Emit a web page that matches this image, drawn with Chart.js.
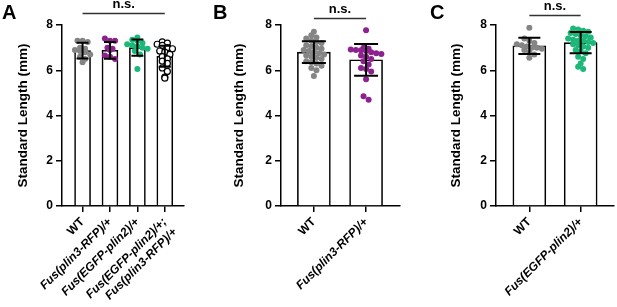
<!DOCTYPE html>
<html><head><meta charset="utf-8">
<script src="https://cdn.jsdelivr.net/npm/chart.js@4"></script>
<style>
html,body{margin:0;padding:0;background:#fff;width:617px;height:307px;overflow:hidden}
canvas{position:absolute;top:0}
</style></head><body>
<canvas id="cA" width="205" height="307" style="left:0px"></canvas>
<canvas id="cB" width="205" height="307" style="left:205px"></canvas>
<canvas id="cC" width="207" height="307" style="left:410px"></canvas>
<script>
// ---------- DATA ----------
const yTicks = [0, 2, 4, 6, 8];
const yTitle = 'Standard Length (mm)';

// Panel A
const catsA = ['WT', 'Fus(plin3-RFP)/+', 'Fus(EGFP-plin2)/+', ['Fus(EGFP-plin2)/+;', 'Fus(plin3-RFP)/+']];
const meansA = [6.87, 6.88, 7.0, 6.62];
const sdA = [0.35, 0.37, 0.36, 0.46];
const a_WT = [7.3, 7.3, 7.25, 7.0, 6.95, 6.9, 6.85, 6.8, 6.7, 6.6, 6.5, 6.35];
const a_plin3 = [7.4, 7.3, 7.3, 7.0, 6.95, 6.9, 6.65, 6.6, 6.5];
const a_egfp = [7.45, 7.35, 7.3, 7.2, 7.15, 7.1, 7.05, 7.0, 6.95, 6.85, 6.7, 6.05];
const a_double = [7.25, 7.2, 7.15, 7.1, 7.0, 6.95, 6.85, 6.8, 6.7, 6.6, 6.5, 6.4, 6.3, 6.1, 5.95, 5.7, 5.65];

// Panel B
const catsB = ['WT', 'Fus(plin3-RFP)/+'];
const meansB = [6.8, 6.46];
const sdB = [0.48, 0.7];
const b_WT = [7.7, 7.55, 7.45, 7.4, 7.3, 7.25, 7.2, 7.1, 7.05, 7.0, 6.95, 6.9, 6.85, 6.8, 6.75, 6.7, 6.65, 6.6, 6.55, 6.5, 6.4, 6.35, 6.3, 6.2, 6.1, 6.0, 5.75];
const b_plin3 = [7.77, 7.0, 6.95, 6.92, 6.9, 6.88, 6.85, 6.8, 6.75, 6.72, 6.65, 6.6, 6.5, 6.4, 6.25, 6.1, 6.05, 5.95, 5.6, 4.85, 4.7];

// Panel C
const catsC = ['WT', 'Fus(EGFP-plin2)/+'];
const meansC = [7.08, 7.22];
const sdC = [0.36, 0.47];
const c_WT = [7.88, 7.4, 7.3, 7.2, 7.15, 7.1, 7.05, 7.0, 7.0, 6.95, 6.9, 6.8, 6.7, 6.55];
const c_egfp = [7.85, 7.8, 7.75, 7.7, 7.65, 7.6, 7.55, 7.5, 7.45, 7.4, 7.35, 7.3, 7.3, 7.25, 7.2, 7.15, 7.1, 7.05, 7.0, 6.9, 6.85, 6.75, 6.6, 6.5, 6.3, 6.15, 6.05];

// ---------- STYLE ----------
const FONT = '"Liberation Sans", Arial, Helvetica, sans-serif';
Chart.defaults.font.family = FONT;
Chart.defaults.color = '#000';
const GRAY = '#858585', PURPLE = '#8e2190', GREEN = '#1bb87a';
const TOP = 25, BOTTOM = 206, PXY = (BOTTOM - TOP) / 8;
const R = 3;

// GraphPad-like scatter: bin values into rows, spread each row horizontally
function swarm(vals, pxX) {
  const binH = 2 * R * 0.95, sp = 2 * R * 0.85;
  const rows = {};
  vals.forEach((v, k) => {
    const key = Math.round(v * PXY / binH);
    (rows[key] = rows[key] || []).push(k);
  });
  const out = new Array(vals.length).fill(0);
  Object.values(rows).forEach(list => {
    const n = list.length;
    list.forEach((k, j) => { out[k] = ((j - (n - 1) / 2) * sp) / pxX; });
  });
  return out;
}
function points(vals, idx, pxX) {
  const j = swarm(vals, pxX);
  return vals.map((v, k) => ({ x: idx + j[k], y: v }));
}

const errPlugin = {
  id: 'err',
  afterDatasetsDraw(chart, args, o) {
    const { ctx, scales: { x, y } } = chart;
    ctx.save();
    ctx.strokeStyle = '#000'; ctx.lineWidth = 2;
    o.means.forEach((m, i) => {
      const px = x.getPixelForValue(i);
      const t = y.getPixelForValue(m + o.sd[i]), b = y.getPixelForValue(m - o.sd[i]);
      ctx.beginPath();
      ctx.moveTo(px, t); ctx.lineTo(px, b);
      ctx.moveTo(px - o.cap, t); ctx.lineTo(px + o.cap, t);
      ctx.moveTo(px - o.cap, b); ctx.lineTo(px + o.cap, b);
      ctx.stroke();
    });
    // n.s. bracket
    const x1 = x.getPixelForValue(0), x2 = x.getPixelForValue(o.means.length - 1);
    ctx.strokeStyle = '#333'; ctx.lineWidth = 1.5;
    ctx.beginPath(); ctx.moveTo(x1, o.lineY); ctx.lineTo(x2, o.lineY); ctx.stroke();
    ctx.fillStyle = '#000'; ctx.font = 'bold 13px ' + FONT;
    ctx.textAlign = 'center'; ctx.textBaseline = 'alphabetic';
    ctx.fillText('n.s.', (x1 + x2) / 2, o.lineY - 5.5);
    // panel letter
    ctx.font = 'bold 20px ' + FONT; ctx.textAlign = 'left';
    ctx.fillText(o.letter, o.letterX, 19);
    ctx.restore();
  }
};

function makeChart(id, cfg) {
  const pxX = (cfg.right - cfg.left) / (cfg.max - cfg.min);
  const datasets = [{
    type: 'bar', order: 2,
    data: cfg.means.map((m, i) => ({ x: i, y: m })),
    backgroundColor: '#fff', borderColor: '#000', borderWidth: 1.6,
    barThickness: cfg.barW, borderSkipped: 'bottom'
  }];
  cfg.groups.forEach((g, i) => {
    datasets.push({
      type: 'scatter', order: 1,
      data: points(g.vals, i, pxX),
      pointRadius: R, pointHoverRadius: R,
      backgroundColor: g.open ? '#fff' : g.color,
      borderColor: g.open ? '#000' : g.color,
      borderWidth: g.open ? 1.2 : 0
    });
  });
  return new Chart(document.getElementById(id), {
    type: 'bar',
    data: { datasets },
    options: {
      responsive: false, animation: false, devicePixelRatio: 1,
      layout: { padding: { top: TOP, left: 0, right: cfg.padR, bottom: 0 } },
      plugins: {
        legend: { display: false }, tooltip: { enabled: false },
        err: { means: cfg.means, sd: cfg.sd, cap: cfg.cap, lineY: cfg.lineY, letter: cfg.letter, letterX: cfg.letterX }
      },
      scales: {
        x: {
          type: 'linear', min: cfg.min, max: cfg.max, offset: false,
          afterBuildTicks: s => { s.ticks = cfg.cats.map((c, i) => ({ value: i })); },
          afterFit: s => { s.height = 307 - BOTTOM; },
          ticks: {
            autoSkip: false, maxRotation: 45, minRotation: 45, padding: 3,
            callback: v => cfg.cats[v],
            font: ctx => ({ family: FONT, size: 12, weight: 'bold',
              style: (ctx.index === 0) ? 'normal' : 'italic' })
          },
          grid: { drawOnChartArea: false, color: '#000', lineWidth: 1.5, tickLength: 6, offset: false },
          border: { color: '#000', width: 1.5 }
        },
        y: {
          min: 0, max: 8,
          afterBuildTicks: s => { s.ticks = yTicks.map(v => ({ value: v })); },
          afterFit: s => { s.width = cfg.left; },
          ticks: { font: { family: FONT, size: 12, weight: 'bold' }, padding: 3 },
          grid: { drawOnChartArea: false, color: '#000', lineWidth: 1.5, tickLength: 6 },
          border: { color: '#000', width: 1.5 },
          title: { display: true, text: yTitle, font: { family: FONT, size: 13.5, weight: 'bold' },
            padding: { top: cfg.titlePad, bottom: 0 } }
        }
      }
    },
    plugins: [errPlugin]
  });
}

makeChart('cA', {
  cats: catsA, means: meansA, sd: sdA, left: 62, right: 184, padR: 205 - 184,
  min: -0.75, max: 3.70, barW: 16, cap: 6, lineY: 13.5, letter: 'A', letterX: 2, titlePad: 15,
  groups: [{ vals: a_WT, color: GRAY }, { vals: a_plin3, color: PURPLE }, { vals: a_egfp, color: GREEN }, { vals: a_double, open: true }]
});
makeChart('cB', {
  cats: catsB, means: meansB, sd: sdB, left: 76, right: 195, padR: 10,
  min: -0.63, max: 1.65, barW: 33, cap: 12, lineY: 18.5, letter: 'B', letterX: 8, titlePad: 26,
  groups: [{ vals: b_WT, color: GRAY }, { vals: b_plin3, color: PURPLE }]
});
makeChart('cC', {
  cats: catsC, means: meansC, sd: sdC, left: 86, right: 206, padR: 1,
  min: -0.65, max: 1.65, barW: 33, cap: 11, lineY: 15.5, letter: 'C', letterX: 20, titlePad: 38,
  groups: [{ vals: c_WT, color: GRAY }, { vals: c_egfp, color: GREEN }]
});
</script>
</body></html>
